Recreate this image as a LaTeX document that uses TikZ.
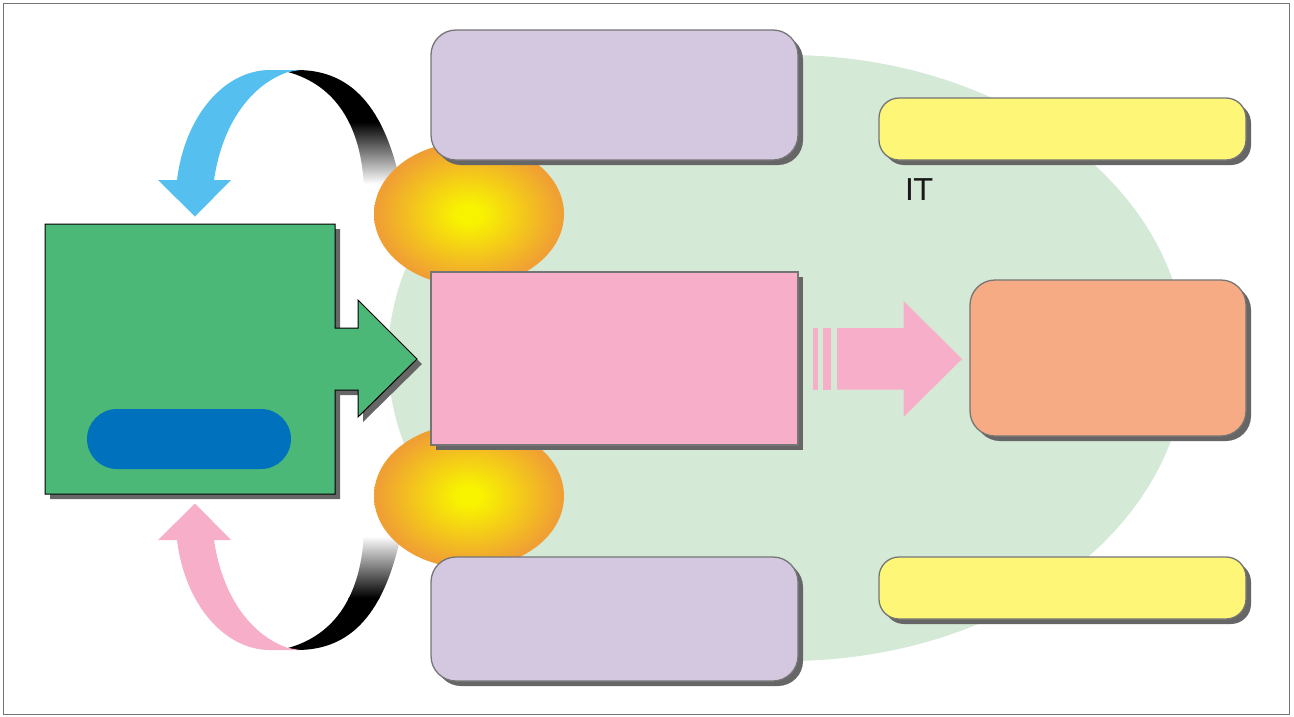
\documentclass[tikz,border=0pt]{standalone}
\usepackage{fontspec}
\setmainfont{DejaVu Sans}
\usetikzlibrary{shadows,shapes.misc}
\definecolor{blobgreen}{HTML}{D5E9D7}
\definecolor{boxgreen}{HTML}{4CB878}
\definecolor{pillblue}{HTML}{0071BC}
\definecolor{lilac}{HTML}{D4C7E0}
\definecolor{rose}{HTML}{F7AEC8}
\definecolor{lemon}{HTML}{FEF677}
\definecolor{salmon}{HTML}{F7AB85}
\definecolor{sky}{HTML}{55BFF0}
\definecolor{shadowgray}{HTML}{666666}
\definecolor{edgegray}{HTML}{757575}
\definecolor{goldo}{HTML}{F0A033}
\definecolor{goldy}{HTML}{F8F400}
\pgfdeclareradialshading{goldglow}{\pgfpoint{0bp}{0bp}}{color(0bp)=(goldy); color(3bp)=(goldy); color(24bp)=(goldo); color(50bp)=(goldo)}
\tikzset{
  panel/.style={draw=edgegray,line width=1.3pt,inner sep=0pt,outer sep=0pt,
    drop shadow={shadow xshift=5pt,shadow yshift=-5pt,fill=shadowgray,opacity=1}},
  softbox/.style={panel,rounded corners=#1}
}
\begin{document}
\begin{tikzpicture}[x=1pt,y=-1pt]
\useasboundingbox (0,0) rectangle (1294,716);
\fill[white] (0,0) rectangle (1294,716);
\draw[edgegray,line width=1pt] (3,3) rectangle (1289,714);
% backdrop
\fill[blobgreen] (787,358) ellipse [x radius=399,y radius=303];
% fading arcs
\begin{scope}
\clip (288,72) .. controls (335,85) and (362,125) .. (364,190) -- (402,190) .. controls (385,105) and (350,70) .. (297,70) -- cycle;
\fill[black] (280,60) rectangle (410,123);
\shade[top color=black,bottom color=white] (280,122) rectangle (410,184);
\end{scope}
\begin{scope}
\clip (288,648) .. controls (335,635) and (362,595) .. (364,530) -- (402,530) .. controls (385,615) and (350,650) .. (297,650) -- cycle;
\fill[black] (280,597) rectangle (410,660);
\shade[top color=white,bottom color=black] (280,536) rectangle (410,598);
\end{scope}
% glows
\shade[shading=goldglow] (469,214) ellipse [x radius=95,y radius=72];
\shade[shading=goldglow] (469,496) ellipse [x radius=95,y radius=72];
% curved arrows
\fill[sky] (300,70) -- (270,70) .. controls (225,70) and (185,115) .. (177,180) -- (158,180) -- (195,216.5) -- (231,180) -- (214,180) .. controls (222,125) and (250,85) .. (288,72) -- cycle;
\fill[rose] (300,650) -- (270,650) .. controls (225,650) and (185,605) .. (177,540) -- (158,540) -- (195,503.5) -- (231,540) -- (214,540) .. controls (222,595) and (250,635) .. (288,648) -- cycle;
% green block arrow
\fill[shadowgray] (50,229) -- (340,229) -- (340,333) -- (363,333) -- (363,305) -- (422,364) -- (363,422) -- (363,395) -- (340,395) -- (340,499) -- (50,499) -- cycle;
\draw[black,line width=1pt,fill=boxgreen] (45,224) -- (335,224) -- (335,328) -- (358,328) -- (358,300) -- (417,359) -- (358,417) -- (358,390) -- (335,390) -- (335,494) -- (45,494) -- cycle;
\node[rounded rectangle,fill=pillblue,minimum width=204pt,minimum height=60pt,inner sep=0pt] (pill) at (189,439) {};
% panels
\node[softbox=25pt,fill=lilac,minimum width=367pt,minimum height=130pt] (topbox) at (614.5,95) {};
\node[softbox=25pt,fill=lilac,minimum width=367pt,minimum height=124pt] (botbox) at (614.5,619) {};
\node[panel,fill=rose,minimum width=367pt,minimum height=173pt] (midbox) at (614.5,358.5) {};
\node[softbox=20pt,fill=lemon,minimum width=367pt,minimum height=62pt] (yeltop) at (1062.5,129) {};
\node[softbox=20pt,fill=lemon,minimum width=367pt,minimum height=62pt] (yelbot) at (1062.5,588) {};
\node[softbox=25pt,fill=salmon,minimum width=276pt,minimum height=156pt] (orangebox) at (1108,358) {};
% pink arrow
\fill[rose] (813,328) rectangle (818,390);
\fill[rose] (823,328) rectangle (831,390);
\fill[rose] (837,328) -- (903.5,328) -- (903.5,301) -- (962,359) -- (903.5,417) -- (903.5,389.5) -- (837,389.5) -- cycle;
\node[font=\fontsize{30pt}{32pt}\selectfont,text=black!90,inner sep=0pt] (itlabel) at (919,190) {IT};
\end{tikzpicture}
\end{document}
